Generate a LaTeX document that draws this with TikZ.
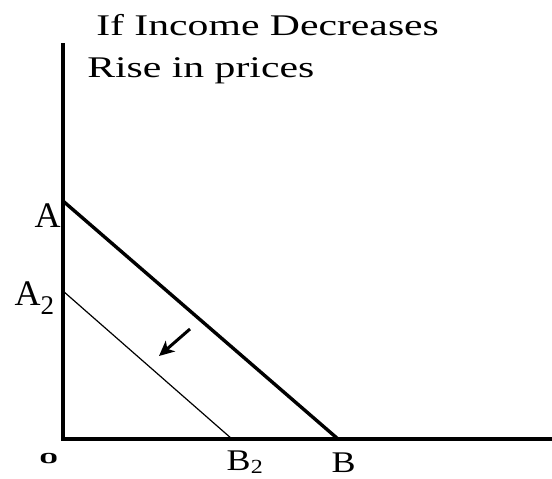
\documentclass[tikz,border=0pt]{standalone}
\usepackage{fontspec}
\setmainfont{Liberation Serif}
\usetikzlibrary{arrows.meta}
\begin{document}
\begin{tikzpicture}[x=1pt,y=-1pt,
  axis/.style={line width=3.6pt,line join=miter},
  budget/.style={line width=3.4pt},
  budgettwo/.style={line width=1.2pt},
  shiftarrow/.style={line width=3pt,-{Stealth[length=15pt,width=14pt,inset=4pt]}},
  titletext/.style={inner sep=0pt,anchor=base west,font=\fontsize{30}{34}\selectfont,xscale=1.39},
  pointlabel/.style={inner sep=0pt,anchor=base west,font=\fontsize{36}{40}\selectfont},
  blabel/.style={inner sep=0pt,anchor=base west,font=\fontsize{30}{34}\selectfont,xscale=1.2}]
\useasboundingbox (0,0) rectangle (552,479);
% axes
\coordinate (top) at (63,43);
\coordinate (origin) at (63,439);
\coordinate (right) at (552,439);
\draw[axis] (top) -- (origin) -- (right);
% budget lines
\coordinate (a) at (63,201);
\coordinate (b) at (338,439);
\coordinate (a2) at (63,291);
\coordinate (b2) at (232,439);
\draw[budget] (a) -- (b);
\draw[budgettwo] (a2) -- (b2);
% shift arrow
\coordinate (arrstart) at (190,329);
\coordinate (arrend) at (159,356);
\draw[shiftarrow] (arrstart) -- (arrend);
% titles
\node[titletext] (t1) at (96,35) {If Income Decreases};
\node[titletext] (t2) at (87,77) {Rise in prices};
% labels
\node[pointlabel] (la) at (34.5,227) {A};
\node[pointlabel] (la2) at (14.5,305) {A\raisebox{-9pt}{\fontsize{27}{30}\selectfont 2}};
\node[blabel] (lb2) at (226.5,470) {B\raisebox{-3pt}[0pt][0pt]{\fontsize{20}{24}\selectfont 2}};
\node[blabel] (lb) at (331.5,472) {B};
\node[inner sep=0pt,anchor=base west,font=\fontsize{19}{22}\selectfont\sffamily\bfseries,xscale=1.8,yscale=0.75] (lo) at (39,463) {0};
\end{tikzpicture}
\end{document}
